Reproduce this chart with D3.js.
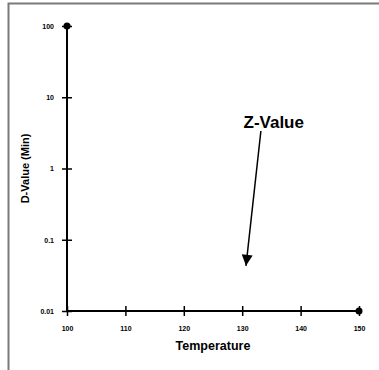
<!DOCTYPE html>
<html>
<head>
<meta charset="utf-8">
<script src="https://cdn.jsdelivr.net/npm/d3@7"></script>
<style>
  body { margin: 0; background: #fff; }
  svg { display: block; font-family: "Liberation Sans", Arial, sans-serif; }
</style>
</head>
<body>
<svg width="379" height="370"></svg>
<script>
// данные графика
const xTicks = [100, 110, 120, 130, 140, 150];
const yTicks = [0.01, 0.1, 1, 10, 100];
const pointsX = [100, 150];
const pointsY = [100, 0.01];
// подпись-стрелка (в координатах данных)
const noteText = "Z-Value";
const noteFrom = [133.2, 3.36];
const noteTo = [130.65, 0.043];
const notePos = [135.4, 3.7];

const svg = d3.select("svg");

const attr_area = { left: 67, right: 359, top: 26, bottom: 311 };

// рамка
svg.append("path")
   .attr("d", "M8.5,370 L8.5,3.5 L379,3.5")
   .attr("fill", "none")
   .attr("stroke", "#7a7a7a")
   .attr("stroke-width", 2);

const scX = d3.scaleLinear().domain([100, 150]).range([attr_area.left, attr_area.right]);
const scY = d3.scaleLog().domain([0.01, 100]).range([attr_area.bottom, attr_area.top]);

// ось X
let gX = svg.append("g")
   .attr("transform", `translate(0, ${attr_area.bottom})`)
   .call(d3.axisBottom(scX).tickValues(xTicks).tickSize(5).tickPadding(10).tickFormat(d3.format("d")));
gX.select(".domain").attr("stroke-width", 2).attr("d", `M${attr_area.left},0H${attr_area.right}`);
gX.selectAll(".tick line").attr("y1", -5).attr("y2", 5).attr("stroke-width", 1.5);
gX.selectAll(".tick text")
  .attr("font-size", 7).attr("font-weight", "bold").attr("font-family", "Liberation Sans, Arial, sans-serif");

// ось Y
let gY = svg.append("g")
   .attr("transform", `translate(${attr_area.left}, 0)`)
   .call(d3.axisLeft(scY).tickValues(yTicks).tickSize(5).tickPadding(8).tickFormat(d => String(d)));
gY.select(".domain").attr("stroke-width", 2).attr("d", `M0,${attr_area.top}V${attr_area.bottom}`);
gY.selectAll(".tick line").attr("x1", -5).attr("x2", 5).attr("stroke-width", 1.5);
gY.selectAll(".tick text")
  .attr("font-size", 7).attr("font-weight", "bold").attr("font-family", "Liberation Sans, Arial, sans-serif");

// подписи осей
svg.append("text")
   .attr("x", (attr_area.left + attr_area.right) / 2)
   .attr("y", 350)
   .attr("text-anchor", "middle")
   .attr("font-size", 12.5)
   .attr("font-weight", "bold")
   .text("Temperature");

svg.append("text")
   .attr("transform", `translate(29, ${(attr_area.top + attr_area.bottom) / 2}) rotate(-90)`)
   .attr("text-anchor", "middle")
   .attr("font-size", 11)
   .attr("font-weight", "bold")
   .text("D-Value (Min)");

// точки
svg.selectAll(".dot")
   .data(d3.zip(pointsX, pointsY))
   .enter()
   .append("circle")
   .attr("cx", d => scX(d[0]))
   .attr("cy", d => scY(d[1]))
   .attr("r", 3.5)
   .style("fill", "#000");

// стрелка
svg.append("defs").append("marker")
   .attr("id", "head")
   .attr("viewBox", "0 0 10 10")
   .attr("refX", 10).attr("refY", 5)
   .attr("markerWidth", 14).attr("markerHeight", 11)
   .attr("markerUnits", "userSpaceOnUse")
   .attr("orient", "auto")
   .append("path")
   .attr("d", "M0,0 L10,5 L0,10 Z")
   .attr("fill", "#000");

svg.append("line")
   .attr("x1", scX(noteFrom[0])).attr("y1", scY(noteFrom[1]))
   .attr("x2", scX(noteTo[0])).attr("y2", scY(noteTo[1]))
   .attr("stroke", "#000")
   .attr("stroke-width", 1.5)
   .attr("marker-end", "url(#head)");

svg.append("text")
   .attr("x", scX(notePos[0]))
   .attr("y", scY(notePos[1]))
   .attr("text-anchor", "middle")
   .attr("font-size", 17)
   .attr("font-weight", "bold")
   .text(noteText);
</script>
</body>
</html>
